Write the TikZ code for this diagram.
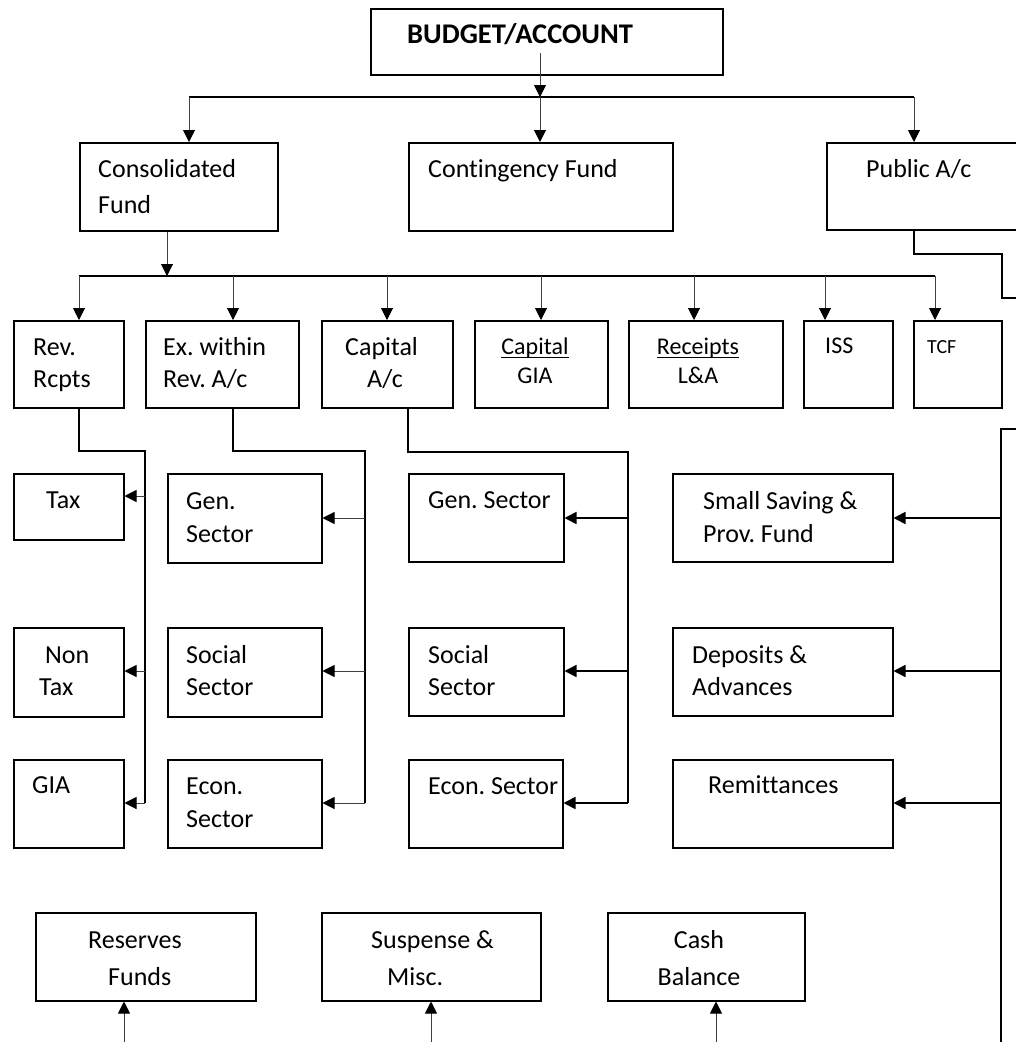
\documentclass[tikz,border=0pt]{standalone}
\usepackage{fontspec}
\setmainfont[Ligatures=NoCommon]{Carlito}
\usetikzlibrary{arrows.meta}
\newcommand\myul[1]{\setbox0\hbox{#1}\rlap{\rule[-4pt]{\wd0}{1.4pt}}\box0}
\frenchspacing
\begin{document}
\begin{tikzpicture}[x=1pt,y=-1pt,
 box/.style={draw=black, line width=1.5pt, inner sep=0pt, anchor=north west},
 txt/.style={inner sep=0pt, anchor=base west, font=\fontsize{26}{30}\selectfont},
 txtc/.style={txt, anchor=base},
 smalltxt/.style={txt, font=\fontsize{24}{28}\selectfont},
 smalltxtc/.style={smalltxt, anchor=base},
 bus/.style={line width=1.8pt, black},
 conn/.style={line width=1.6pt, black},
 thinln/.style={line width=1pt, black!75},
 arr/.style={-{Triangle[length=12pt,width=12pt,color=black]}},
]
\clip (0,0) rectangle (1016,1042);
\fill[white] (0,0) rectangle (1016,1042);

% ---- boxes ----
\node[box, minimum width=352pt, minimum height=66pt] (budget) at (370,8) {};
\node[box, minimum width=198pt, minimum height=88pt] (cons) at (79,142) {};
\node[box, minimum width=264pt, minimum height=88pt] (cont) at (408,142) {};
\node[box, minimum width=220pt, minimum height=87pt] (pub) at (826,142) {};
\node[box, minimum width=110pt, minimum height=87pt] (rev) at (13,320) {};
\node[box, minimum width=153pt, minimum height=87pt] (ex) at (145,320) {};
\node[box, minimum width=131pt, minimum height=87pt] (capac) at (321,320) {};
\node[box, minimum width=133pt, minimum height=87pt] (cgia) at (474,320) {};
\node[box, minimum width=154pt, minimum height=87pt] (rcpt) at (628,320) {};
\node[box, minimum width=89pt, minimum height=87pt] (iss) at (803,320) {};
\node[box, minimum width=88pt, minimum height=87pt] (tcf) at (913,320) {};
\node[box, minimum width=110pt, minimum height=66pt] (tax) at (13,473) {};
\node[box, minimum width=110pt, minimum height=89pt] (nontax) at (13,627) {};
\node[box, minimum width=110pt, minimum height=88pt] (gia) at (13,759) {};
\node[box, minimum width=154pt, minimum height=89pt] (gen1) at (167,473) {};
\node[box, minimum width=154pt, minimum height=89pt] (soc1) at (167,627) {};
\node[box, minimum width=154pt, minimum height=88pt] (eco1) at (167,759) {};
\node[box, minimum width=155pt, minimum height=88pt] (gen2) at (408,473) {};
\node[box, minimum width=155pt, minimum height=88pt] (soc2) at (408,627) {};
\node[box, minimum width=154pt, minimum height=88pt] (eco2) at (408,759) {};
\node[box, minimum width=220pt, minimum height=88pt] (ssp) at (672,473) {};
\node[box, minimum width=220pt, minimum height=88pt] (dep) at (672,627) {};
\node[box, minimum width=220pt, minimum height=88pt] (rem) at (672,759) {};
\node[box, minimum width=220pt, minimum height=88pt] (res) at (35,912) {};
\node[box, minimum width=219pt, minimum height=88pt] (sus) at (321,912) {};
\node[box, minimum width=197pt, minimum height=88pt] (cash) at (607,912) {};

% ---- texts ----
\node[txt, font=\fontsize{28.5}{32}\selectfont\bfseries] (t-budget) at (407,43) {BUDGET/ACCOUNT};
\node[txt] (t-cons1) at (98,177) {Consolidated};
\node[txt] (t-cons2) at (98,213) {Fund};
\node[txt] (t-cont) at (428,177) {Contingency Fund};
\node[txt] (t-pub) at (866,177) {Public A/c};
\node[txt] (t-rev1) at (33,355) {Rev.};
\node[txt] (t-rev2) at (33,387) {Rcpts};
\node[txt] (t-ex1) at (163,355) {Ex. within};
\node[txt] (t-ex2) at (163,387) {Rev. A/c};
\node[txt] (t-cap1) at (345,355) {Capital};
\node[txt] (t-cap2) at (367,387) {A/c};
\node[smalltxtc] (t-cg1) at (535,354) {\myul{Capital}};
\node[smalltxtc] (t-cg2) at (535,383) {GIA};
\node[smalltxtc] (t-rc1) at (698,354) {\myul{Receipts}};
\node[smalltxtc] (t-rc2) at (698,383) {L\&A};
\node[smalltxt] (t-iss) at (825,353) {ISS};
\node[txt, font=\fontsize{20}{24}\selectfont] (t-tcf) at (927,353) {TCF};
\node[txt] (t-tax) at (46,508) {Tax};
\node[txt] (t-non1) at (45,663) {Non};
\node[txt] (t-non2) at (39,695) {Tax};
\node[txt] (t-gia) at (32,793) {GIA};
\node[txt] (t-g1a) at (186,509) {Gen.};
\node[txt] (t-g1b) at (186,542) {Sector};
\node[txt] (t-s1a) at (186,663) {Social};
\node[txt] (t-s1b) at (186,695) {Sector};
\node[txt] (t-e1a) at (186,794) {Econ.};
\node[txt] (t-e1b) at (186,827) {Sector};
\node[txt] (t-g2) at (428,508) {Gen. Sector};
\node[txt] (t-s2a) at (428,663) {Social};
\node[txt] (t-s2b) at (428,695) {Sector};
\node[txt] (t-e2) at (428,794) {Econ. Sector};
\node[txt] (t-ss1) at (703,509) {Small Saving \&};
\node[txt] (t-ss2) at (703,542) {Prov. Fund};
\node[txt] (t-dp1) at (692,663) {Deposits \&};
\node[txt] (t-dp2) at (692,695) {Advances};
\node[txt] (t-rm) at (708,793) {Remittances};
\node[txt] (t-rs1) at (88,948) {Reserves};
\node[txt] (t-rs2) at (108,985) {Funds};
\node[txt] (t-su1) at (371,948) {Suspense \&};
\node[txt] (t-su2) at (387,985) {Misc.};
\node[txtc] (t-ca1) at (699,948) {Cash};
\node[txtc] (t-ca2) at (699,985) {Balance};

% ---- top level connectors ----
\coordinate (bstart) at (540,53);
\coordinate (j1) at (540,97);
\coordinate (jL) at (189,97);
\coordinate (jR) at (914,97);
\draw[bus] (jL) -- (jR);
\draw[thinln,arr] (bstart) -- (j1);
\draw[thinln,arr] (jL) -- (jL |- cons.north);
\draw[thinln,arr] (j1) -- (j1 |- cont.north);
\draw[thinln,arr] (jR) -- (jR |- pub.north);

% ---- consolidated fund level ----
\coordinate (c1) at (167,276);
\coordinate (k1) at (79,276);
\coordinate (k2) at (233,276);
\coordinate (k3) at (387,276);
\coordinate (k4) at (541,276);
\coordinate (k5) at (694,276);
\coordinate (k6) at (825,276);
\coordinate (k7) at (935,276);
\draw[thinln,arr] (c1 |- cons.south) -- (c1);
\draw[bus] (k1) -- (k7);
\draw[thinln,arr] (k1) -- (k1 |- rev.north);
\draw[thinln,arr] (k2) -- (k2 |- ex.north);
\draw[thinln,arr] (k3) -- (k3 |- capac.north);
\draw[thinln,arr] (k4) -- (k4 |- cgia.north);
\draw[thinln,arr] (k5) -- (k5 |- rcpt.north);
\draw[thinln,arr] (k6) -- (k6 |- iss.north);
\draw[thinln,arr] (k7) -- (k7 |- tcf.north);

% ---- public account ----
\draw[conn] ([xshift=88pt]pub.south west) |- (1002,254) |- (1030,298);
\coordinate (rv) at (1001,429);
\draw[conn] (1030,429) -- (rv) -- (1001,1050);
\draw[conn,arr] (rv |- 0,518) -- (ssp.east |- 0,518);
\draw[conn,arr] (rv |- 0,671) -- (dep.east |- 0,671);
\draw[conn,arr] (rv |- 0,803) -- (rem.east |- 0,803);

% ---- revenue receipts ----
\coordinate (rl) at (145,451);
\draw[conn] (rev.south -| 79,0) |- (rl) -- (145,803);
\draw[thinln,arr] (rl |- 0,496) -- (tax.east |- 0,496);
\draw[thinln,arr] (rl |- 0,671) -- (nontax.east |- 0,671);
\draw[thinln,arr] (rl |- 0,803) -- (gia.east |- 0,803);

% ---- expenditure within revenue ----
\coordinate (el) at (365,451);
\draw[conn] (ex.south -| 233,0) |- (el) -- (365,803);
\draw[thinln,arr] (el |- 0,518) -- (gen1.east |- 0,518);
\draw[thinln,arr] (el |- 0,671) -- (soc1.east |- 0,671);
\draw[thinln,arr] (el |- 0,803) -- (eco1.east |- 0,803);

% ---- capital account ----
\coordinate (cl) at (628,452);
\draw[conn] (capac.south -| 408,0) |- (cl) -- (628,803);
\draw[conn,arr] (cl |- 0,518) -- (gen2.east |- 0,518);
\draw[conn,arr] (cl |- 0,671) -- (soc2.east |- 0,671);
\draw[conn,arr] (cl |- 0,803) -- (eco2.east |- 0,803);

% ---- bottom row ----
\draw[thinln,arr] (124,1050) -- (res.south -| 124,0);
\draw[thinln,arr] (431,1050) -- (sus.south -| 431,0);
\draw[thinln,arr] (716,1050) -- (cash.south -| 716,0);
\end{tikzpicture}
\end{document}
